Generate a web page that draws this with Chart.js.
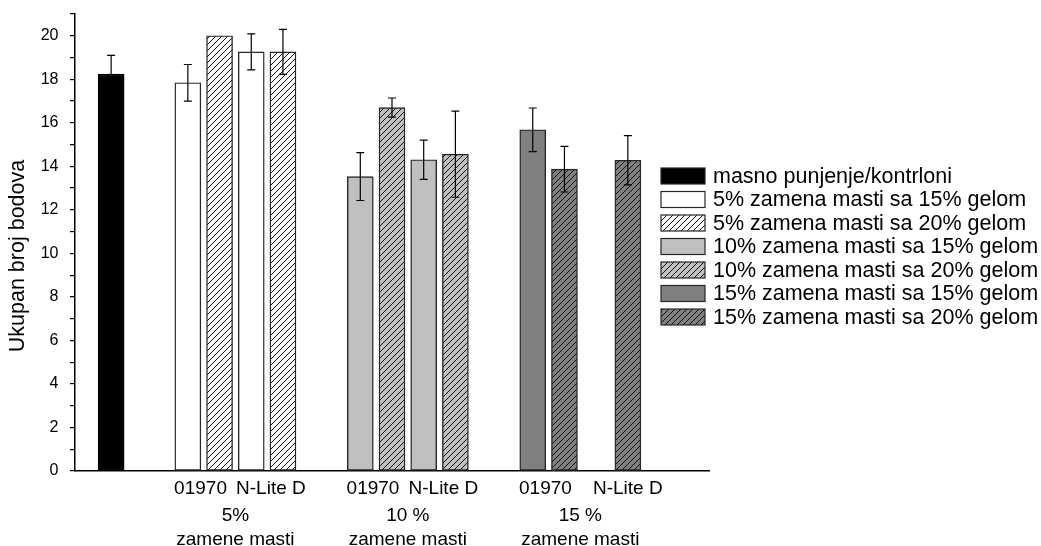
<!DOCTYPE html>
<html>
<head>
<meta charset="utf-8">
<script src="https://cdn.jsdelivr.net/npm/chart.js@4.4.1/dist/chart.umd.min.js"></script>
<style>
  body { margin: 0; background: #fff; }
</style>
</head>
<body>
<canvas id="bodovi-chart" width="1041" height="546"></canvas>
<script>
// podaci (ocitano sa slike)
var seriesLabels = [
    'masno punjenje/kontrloni',
    '5% zamena masti sa 15% gelom',
    '5% zamena masti sa 20% gelom',
    '10% zamena masti sa 15% gelom',
    '10% zamena masti sa 20% gelom',
    '15% zamena masti sa 15% gelom',
    '15% zamena masti sa 20% gelom'
];
var productLabels = ['01970', 'N-Lite D'];
var groupLabels = ['5%', '10 %', '15 %'];
var groupSubtitle = 'zamene masti';
var yTitle = 'Ukupan broj bodova';

var controlMean = [18.24];
var controlErr = [0.86];
// po grupi: [01970, N-Lite D]
var gel15Mean = [[17.84, 19.26], [13.53, 14.30], [15.68, null]];
var gel15Err  = [[0.84, 0.83], [1.10, 0.90], [1.00, null]];
var gel20Mean = [[20.00, 19.26], [16.70, 14.56], [13.87, 14.28]];
var gel20Err  = [[0, 1.03], [0.44, 1.98], [1.05, 1.13]];

var CONTROL_X = 1.14;
var GROUP_START = 3.56;
var GROUP_STEP = 5.44;
var FONT = '"Liberation Sans", Arial, sans-serif';

function hatch(bg) {
    var c = document.createElement('canvas');
    c.width = 6; c.height = 6;
    var g = c.getContext('2d');
    g.fillStyle = bg;
    g.fillRect(0, 0, 6, 6);
    g.strokeStyle = '#111';
    g.lineWidth = 1;
    g.beginPath();
    g.moveTo(0, 6); g.lineTo(6, 0);
    g.moveTo(-1, 1); g.lineTo(1, -1);
    g.moveTo(5, 7); g.lineTo(7, 5);
    g.stroke();
    return g.createPattern(c, 'repeat');
}

var fills = ['#000000', '#ffffff', hatch('#ffffff'), '#c0c0c0', hatch('#c0c0c0'), '#808080', hatch('#808080')];

function xOf(g, p, gel20) {
    return GROUP_START + g * GROUP_STEP + 2 * p + (gel20 ? 1 : 0);
}

var datasets = [{
    label: seriesLabels[0],
    data: [{x: CONTROL_X, y: controlMean[0]}],
    errors: controlErr,
    backgroundColor: fills[0],
    borderColor: '#000'
}];
for (var g = 0; g < 3; g++) {
    [false, true].forEach(function(is20) {
        var means = is20 ? gel20Mean[g] : gel15Mean[g];
        var errs = is20 ? gel20Err[g] : gel15Err[g];
        var idx = 1 + 2 * g + (is20 ? 1 : 0);
        var pts = [], e = [];
        for (var p = 0; p < 2; p++) {
            if (means[p] === null) continue;
            pts.push({x: xOf(g, p, is20), y: means[p]});
            e.push(errs[p]);
        }
        datasets.push({
            label: seriesLabels[idx],
            data: pts,
            errors: e,
            backgroundColor: fills[idx],
            borderColor: '#262626'
        });
    });
}

// natpisi ispod stubova: centrirani ispod postojecih stubova, malo razmaknuti
var pairTicks = [], groupTicks = [];
for (var g = 0; g < 3; g++) {
    for (var p = 0; p < 2; p++) {
        var has15 = gel15Mean[g][p] !== null, has20 = gel20Mean[g][p] !== null;
        var v;
        if (has15 && has20) v = xOf(g, p, false) + 0.5 + (p === 0 ? -0.1 : 0.12);
        else v = xOf(g, p, has20);
        pairTicks.push(v);
    }
    groupTicks.push(xOf(g, 0, false) + 1.5);
}

var errorBars = {
    id: 'errorBars',
    afterDatasetsDraw: function(chart) {
        var ctx = chart.ctx, y = chart.scales.y;
        ctx.save();
        ctx.strokeStyle = '#000';
        ctx.lineWidth = 1.2;
        chart.data.datasets.forEach(function(ds, i) {
            var meta = chart.getDatasetMeta(i);
            meta.data.forEach(function(bar, j) {
                var err = ds.errors[j];
                if (!err) return;
                var v = ds.data[j].y;
                var top = y.getPixelForValue(v + err), bot = y.getPixelForValue(v - err);
                ctx.beginPath();
                ctx.moveTo(bar.x, top); ctx.lineTo(bar.x, bot);
                ctx.moveTo(bar.x - 4, top); ctx.lineTo(bar.x + 4, top);
                ctx.moveTo(bar.x - 4, bot); ctx.lineTo(bar.x + 4, bot);
                ctx.stroke();
            });
        });
        ctx.restore();
    }
};

// legenda i naslov ose, crtani rucno
var boxLegend = {
    id: 'boxLegend',
    afterDraw: function(chart) {
        var ctx = chart.ctx;
        ctx.save();
        ctx.font = '21.5px ' + FONT;
        ctx.textBaseline = 'middle';
        chart.data.datasets.forEach(function(ds, i) {
            var cy = 176 + i * 23.5;
            ctx.fillStyle = ds.backgroundColor;
            ctx.fillRect(661, cy - 8, 44, 16);
            ctx.strokeStyle = '#262626';
            ctx.lineWidth = 1.2;
            ctx.strokeRect(661, cy - 8, 44, 16);
            ctx.fillStyle = '#000';
            ctx.fillText(ds.label, 713, cy + 1);
        });
        ctx.translate(18, 256);
        ctx.rotate(-Math.PI / 2);
        ctx.textAlign = 'center';
        ctx.fillText(yTitle, 0, 0);
        ctx.restore();
    }
};

var ctx = document.getElementById('bodovi-chart');
var myBarChart = new Chart(ctx, {
    type: 'bar',
    data: { datasets: datasets },
    plugins: [errorBars, boxLegend],
    options: {
        responsive: false,
        animation: false,
        devicePixelRatio: 1,
        layout: { padding: { left: 0, right: 332, top: 14, bottom: 0 } },
        datasets: {
            bar: { grouped: false, barThickness: 26, borderWidth: 1.4, borderSkipped: false }
        },
        plugins: {
            legend: { display: false },
            tooltip: { enabled: false }
        },
        scales: {
            x: {
                type: 'linear',
                offset: false,
                min: 0, max: 20,
                weight: 0,
                afterBuildTicks: function(scale) {
                    scale.ticks = pairTicks.map(function(v) { return {value: v}; });
                },
                afterFit: function(scale) { scale.height = 30; scale.paddingLeft = 0; scale.paddingRight = 0; },
                grid: { display: false, tickLength: 0 },
                border: { display: true, color: '#000', width: 1.5 },
                ticks: {
                    autoSkip: false,
                    maxRotation: 0,
                    padding: 6,
                    color: '#000',
                    font: { family: FONT, size: 19 },
                    callback: function(value, index) { return productLabels[index % 2]; }
                }
            },
            x2: {
                type: 'linear',
                position: 'bottom',
                offset: false,
                min: 0, max: 20,
                weight: 1,
                afterBuildTicks: function(scale) {
                    scale.ticks = groupTicks.map(function(v) { return {value: v}; });
                },
                afterFit: function(scale) { scale.height = 45; scale.paddingLeft = 0; scale.paddingRight = 0; },
                grid: { display: false, tickLength: 0 },
                border: { display: false },
                ticks: {
                    autoSkip: false,
                    maxRotation: 0,
                    padding: 3,
                    color: '#000',
                    font: { family: FONT, size: 19, lineHeight: 1.25 },
                    callback: function(value, index) { return [groupLabels[index], groupSubtitle]; }
                }
            },
            y: {
                min: 0, max: 21,
                afterFit: function(scale) { scale.width = 75; scale.paddingTop = 0; scale.paddingBottom = 0; },
                grid: { drawOnChartArea: false, drawTicks: true, tickLength: 5, color: '#000', lineWidth: 1.2 },
                border: { display: true, color: '#000', width: 1.5 },
                ticks: {
                    stepSize: 1,
                    autoSkip: false,
                    padding: 11.5,
                    color: '#000',
                    font: { family: FONT, size: 16 },
                    callback: function(value) { return value % 2 === 0 ? value : ''; }
                }
            }
        }
    }
});
</script>
</body>
</html>
